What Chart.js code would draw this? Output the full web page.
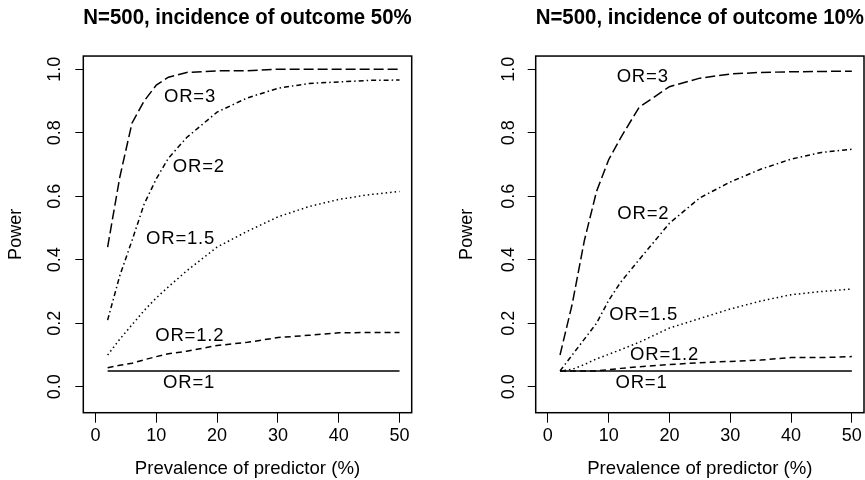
<!DOCTYPE html>
<html>
<head>
<meta charset="utf-8">
<script src="https://cdn.jsdelivr.net/npm/chart.js@4.4.1/dist/chart.umd.min.js"></script>
<style>
  html, body { margin: 0; padding: 0; background: #fff; }
  #wrap { position: relative; width: 865px; height: 480px; overflow: hidden; }
  .panel { position: absolute; top: 0; height: 480px; }
</style>
</head>
<body>
<div id="wrap">
  <div class="panel" style="left:0;width:440px"><canvas id="left"></canvas></div>
  <div class="panel" style="left:440px;width:425px"><canvas id="right"></canvas></div>
</div>
<script>
// ===== DATA =====
const prevalence = [2, 4, 6, 8, 10, 12, 15, 20, 25, 30, 35, 40, 45, 50];
const orNames = ["OR=3", "OR=2", "OR=1.5", "OR=1.2", "OR=1"];

// incidence of outcome 50%
const p50_or3  = [0.44, 0.66, 0.83, 0.90, 0.95, 0.975, 0.99, 0.995, 0.995, 1.0, 1.0, 1.0, 1.0, 1.0];
const p50_or2  = [0.21, 0.35, 0.46, 0.575, 0.655, 0.72, 0.785, 0.865, 0.91, 0.94, 0.955, 0.96, 0.965, 0.966];
const p50_or15 = [0.10, 0.15, 0.195, 0.24, 0.28, 0.315, 0.365, 0.44, 0.49, 0.535, 0.567, 0.59, 0.605, 0.615];
const p50_or12 = [0.06, 0.068, 0.074, 0.085, 0.095, 0.104, 0.112, 0.13, 0.14, 0.155, 0.162, 0.17, 0.171, 0.171];
const p50_or1  = [0.05, 0.05, 0.05, 0.05, 0.05, 0.05, 0.05, 0.05, 0.05, 0.05, 0.05, 0.05, 0.05, 0.05];

// incidence of outcome 10%
const p10_or3  = [0.10, 0.26, 0.46, 0.615, 0.715, 0.785, 0.88, 0.945, 0.972, 0.985, 0.99, 0.992, 0.993, 0.994];
const p10_or2  = [0.05, 0.10, 0.15, 0.20, 0.272, 0.33, 0.40, 0.515, 0.595, 0.645, 0.685, 0.717, 0.738, 0.748];
const p10_or15 = [0.05, 0.055, 0.07, 0.088, 0.102, 0.117, 0.14, 0.185, 0.215, 0.245, 0.27, 0.29, 0.30, 0.308];
const p10_or12 = [0.05, 0.05, 0.05, 0.05, 0.054, 0.058, 0.063, 0.07, 0.076, 0.08, 0.084, 0.092, 0.092, 0.095];
const p10_or1  = [0.05, 0.05, 0.05, 0.05, 0.05, 0.05, 0.05, 0.05, 0.05, 0.05, 0.05, 0.05, 0.05, 0.05];

// where the curve labels sit (data units)
const lab50X = [15.55, 17.0, 14.0, 15.5, 15.4];
const lab50Y = [0.914, 0.693, 0.465, 0.161, 0.0126];
const lab10X = [15.6, 15.7, 15.76, 19.2, 15.4];
const lab10Y = [0.977, 0.543, 0.225, 0.10, 0.0126];

const xTicks = [0, 10, 20, 30, 40, 50];
const xTickLabels = ["0", "10", "20", "30", "40", "50"];
const yTicks = [0, 0.2, 0.4, 0.6, 0.8, 1.0];
const yTickLabels = ["0.0", "0.2", "0.4", "0.6", "0.8", "1.0"];

// ===== STYLE =====
const FONT = "'Liberation Sans', Arial, Helvetica, sans-serif";
const dashes = [[10, 4], [5, 3, 1.5, 3], [1.5, 3], [6, 4], []];

// box, rotated y tick labels, curve labels
const rFrame = {
  id: "rFrame",
  afterDraw(chart, args, opts) {
    const { ctx, chartArea: a, scales } = chart;
    ctx.save();
    ctx.strokeStyle = "#000";
    ctx.lineWidth = 1.5;
    ctx.strokeRect(a.left, a.top, a.right - a.left, a.bottom - a.top);

    ctx.fillStyle = "#000";
    ctx.font = "18px " + FONT;
    ctx.textAlign = "center";
    ctx.textBaseline = "middle";
    yTicks.forEach((v, i) => {
      const y = scales.y.getPixelForValue(v);
      ctx.save();
      ctx.translate(a.left - opts.ylabOffset, y);
      ctx.rotate(-Math.PI / 2);
      ctx.fillText(yTickLabels[i], 0, 0);
      ctx.restore();
    });

    ctx.font = "18.5px " + FONT;
    ctx.letterSpacing = "0.8px";
    opts.labX.forEach((x, i) => {
      ctx.fillText(orNames[i], scales.x.getPixelForValue(x), scales.y.getPixelForValue(opts.labY[i]));
    });
    ctx.restore();
  }
};

function makePanel(id, title, series, labX, labY, g) {
  new Chart(document.getElementById(id), {
    type: "line",
    data: {
      datasets: series.map((s, i) => ({
        label: orNames[i],
        data: prevalence.map((x, j) => ({ x: x, y: s[j] })),
        borderColor: "#000",
        borderWidth: 1.5,
        borderDash: dashes[i],
        pointRadius: 0,
        tension: 0,
        fill: false
      }))
    },
    options: {
      responsive: true,
      maintainAspectRatio: false,
      animation: false,
      layout: { padding: { left: 0, right: g.padRight, top: 0, bottom: 0 } },
      plugins: {
        legend: { display: false },
        tooltip: { enabled: false },
        title: {
          display: true,
          text: title,
          fullSize: false,
          color: "#000",
          font: { family: FONT, size: 22.7, weight: "bold" },
          padding: { top: 4, bottom: 24.8 }
        },
        rFrame: { ylabOffset: g.ylabOffset, labX: labX, labY: labY }
      },
      scales: {
        x: {
          type: "linear",
          min: -2,
          max: 52,
          afterBuildTicks: s => { s.ticks = xTicks.map(v => ({ value: v })); },
          afterFit: s => { s.height = 67.3; },
          grid: { display: true, drawOnChartArea: false, drawTicks: true, tickLength: 10, color: "#000", lineWidth: 1 },
          border: { display: false },
          ticks: {
            color: "#000",
            padding: 2.5,
            maxRotation: 0,
            font: { family: FONT, size: 18 },
            callback: (v, i) => xTickLabels[i]
          },
          title: {
            display: true,
            text: "Prevalence of predictor (%)",
            color: "#000",
            font: { family: FONT, size: 18.6 },
            padding: { top: 0, bottom: 0 }
          }
        },
        y: {
          type: "linear",
          min: -0.0816,
          max: 1.0416,
          afterBuildTicks: s => { s.ticks = yTicks.map(v => ({ value: v })); },
          afterFit: s => { s.width = g.yWidth; },
          grid: { display: true, drawOnChartArea: false, drawTicks: true, tickLength: 8, color: "#000", lineWidth: 1 },
          border: { display: false },
          ticks: { display: false },
          title: {
            display: true,
            text: "Power",
            color: "#000",
            font: { family: FONT, size: 18 },
            padding: { top: g.yTitlePad, bottom: 0 }
          }
        }
      }
    },
    plugins: [rFrame]
  });
}

makePanel("left", "N=500, incidence of outcome 50%",
  [p50_or3, p50_or2, p50_or15, p50_or12, p50_or1], lab50X, lab50Y,
  { padRight: 28.3, yWidth: 83.3, ylabOffset: 28.3, yTitlePad: 5 });

makePanel("right", "N=500, incidence of outcome 10%",
  [p10_or3, p10_or2, p10_or15, p10_or12, p10_or1], lab10X, lab10Y,
  { padRight: 1, yWidth: 95.7, ylabOffset: 26.4, yTitlePad: 16.7 });
</script>
</body>
</html>
